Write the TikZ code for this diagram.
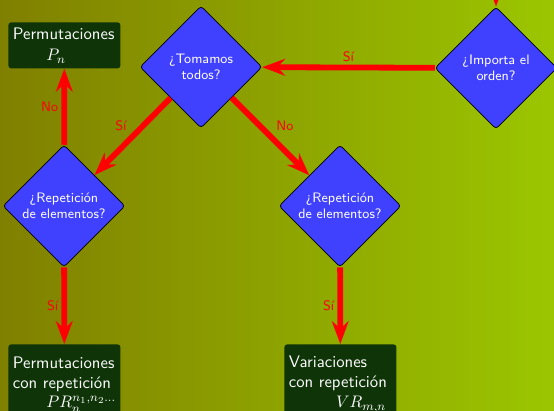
\documentclass[tikz,border=0pt]{standalone}
\usetikzlibrary{shapes.geometric,arrows.meta}
\definecolor{bgL}{RGB}{128,128,0}
\definecolor{bgR}{RGB}{155,198,0}
\definecolor{dfill}{RGB}{64,64,255}
\definecolor{bfill}{RGB}{14,52,8}
\begin{document}
\begin{tikzpicture}[x=0.6553pt,y=-0.6553pt,
  dec/.style={diamond, aspect=1, draw=black, line width=0.5pt, fill=dfill, rounded corners=2pt,
    minimum width=122*0.6553pt, minimum height=122*0.6553pt, inner sep=0pt, align=center,
    text=white, font=\sffamily\fontsize{9}{10.5}\selectfont},
  res/.style={rectangle, fill=bfill, rounded corners=2pt, anchor=north west, align=left,
    text=white, inner xsep=3pt, inner ysep=2.5pt, text width=67.5pt,
    font=\sffamily\fontsize{10.95}{13}\selectfont},
  arr/.style={draw=red, line width=3.8pt, -{Stealth[length=15pt,width=11pt,inset=5pt]}},
  lbl/.style={text=red, font=\sffamily\fontsize{9}{10}\selectfont, inner sep=2pt}]
\useasboundingbox (0,0) rectangle (554,411);
\clip (0,0) rectangle (554,411);
\shade[left color=bgL, right color=bgR] (0,0) rectangle (554,411);
\node[dec] (tom) at (201,67) {¿Tomamos\\todos?};
\node[dec] (imp) at (496,68) {¿Importa el\\orden?};
\node[dec] (repl) at (64,206) {¿Repetición\\de elementos?};
\node[dec] (repr) at (340,206) {¿Repetición\\de elementos?};
\node[res, minimum height=44*0.6553pt, inner ysep=3.5pt] (perm) at (8,22) {Permutaciones\\[1pt]\hspace*{22pt}$P_n$\vphantom{$P_n$}};
\node[res, minimum height=80*0.6553pt] (permr) at (8,344) {Permutaciones\\con repetición\\\hspace*{22pt}$PR_n^{n_1,n_2\dots}$};
\node[res, minimum height=80*0.6553pt] (var) at (284,344) {Variaciones\\con repetición\\\hspace*{31pt}$VR_{m,n}$};
\coordinate (top) at (496,-60);
\draw[arr] (top) -- (imp);
\draw[arr] (imp) -- node[lbl, above] {Sí} (tom);
\draw[arr] (tom) -- node[lbl, above left] {Sí} (repl);
\draw[arr] (tom) -- node[lbl, above right] {No} (repr);
\draw[arr] (repl) -- node[lbl, left] {No} (perm);
\draw[arr] (repl) -- node[lbl, left] {Sí} (permr);
\draw[arr] (repr) -- node[lbl, left] {Sí} (var);
\end{tikzpicture}
\end{document}
